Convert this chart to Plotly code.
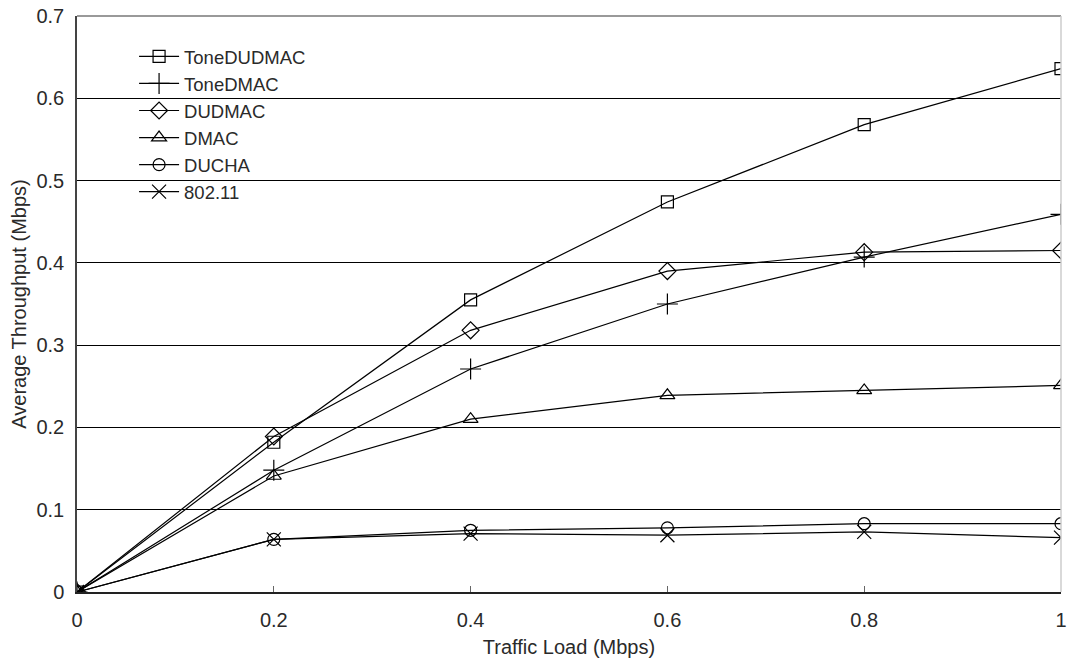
import plotly.graph_objects as go

traffic_load = [0, 0.2, 0.4, 0.6, 0.8, 1.0]
series_names = ["ToneDUDMAC", "ToneDMAC", "DUDMAC", "DMAC", "DUCHA", "802.11"]
tone_dudmac = [0, 0.182, 0.355, 0.474, 0.568, 0.636]
tone_dmac = [0, 0.148, 0.271, 0.350, 0.407, 0.459]
dudmac = [0, 0.189, 0.318, 0.390, 0.413, 0.415]
dmac = [0, 0.141, 0.210, 0.239, 0.245, 0.251]
ducha = [0, 0.064, 0.075, 0.078, 0.083, 0.083]
ieee80211 = [0, 0.064, 0.071, 0.069, 0.073, 0.066]
x_ticks = [0, 0.2, 0.4, 0.6, 0.8, 1]
x_tick_labels = ["0", "0.2", "0.4", "0.6", "0.8", "1"]
y_ticks = [0, 0.1, 0.2, 0.3, 0.4, 0.5, 0.6, 0.7]
y_tick_labels = ["0", "0.1", "0.2", "0.3", "0.4", "0.5", "0.6", "0.7"]

series_values = [tone_dudmac, tone_dmac, dudmac, dmac, ducha, ieee80211]
symbols = ["square-open", "cross-thin-open", "diamond-open", "triangle-up-open", "circle-open", "x-thin-open"]
sizes = [12, 15, 13, 13, 12, 14]

fig = go.Figure()
for name, vals, sym, sz in zip(series_names, series_values, symbols, sizes):
    fig.add_trace(go.Scatter(
        x=traffic_load, y=vals, name=name, mode="lines+markers",
        line=dict(color="black", width=1.2),
        marker=dict(symbol=sym, size=sz, color="black", line=dict(color="black", width=1.2)),
    ))

font_family = "Liberation Sans, Arial, sans-serif"
text_color = "#2a2a2a"
fig.update_layout(
    width=1072, height=661,
    margin=dict(l=77, r=5, t=13, b=69),
    paper_bgcolor="white", plot_bgcolor="white",
    font=dict(family=font_family, size=20, color=text_color),
    showlegend=True,
    legend=dict(x=0.058, y=0.962, xanchor="left", yanchor="top",
                bgcolor="rgba(255,255,255,0)", borderwidth=0,
                font=dict(size=18.5, color=text_color),
                tracegroupgap=0, itemwidth=40),
    xaxis=dict(range=[0, 1], tickvals=x_ticks, ticktext=x_tick_labels,
               showgrid=False, zeroline=False, showline=True, linecolor="#222", linewidth=1.5,
               ticks="inside", ticklen=6, tickcolor="#666", ticklabeloverflow="allow",
               ticklabelstandoff=9,
               title=dict(text="Traffic Load (Mbps)", font=dict(size=20, color=text_color), standoff=10),
               tickfont=dict(size=20, color=text_color)),
    yaxis=dict(range=[0, 0.7], tickvals=y_ticks, ticktext=y_tick_labels,
               showgrid=True, gridcolor="black", gridwidth=1, zeroline=False,
               showline=True, linecolor="#444", linewidth=1.5, ticks="",
               ticklabelstandoff=7,
               title=dict(text="Average Throughput (Mbps)", font=dict(size=20, color=text_color), standoff=4),
               tickfont=dict(size=20, color=text_color)),
    shapes=[
        dict(type="rect", xref="paper", yref="paper", layer="between",
             x0=(117 - 77) / 990, x1=(338 - 77) / 990, y0=(592 - 205) / 579, y1=(592 - 35) / 579,
             fillcolor="white", line=dict(width=0)),
        dict(type="line", xref="paper", yref="paper", x0=0, x1=1, y0=1, y1=1,
             line=dict(color="#999", width=2)),
        dict(type="line", xref="paper", yref="paper", x0=1, x1=1, y0=0, y1=1,
             line=dict(color="#ccc", width=1.5)),
    ],
)

fig.write_html("out.html")
